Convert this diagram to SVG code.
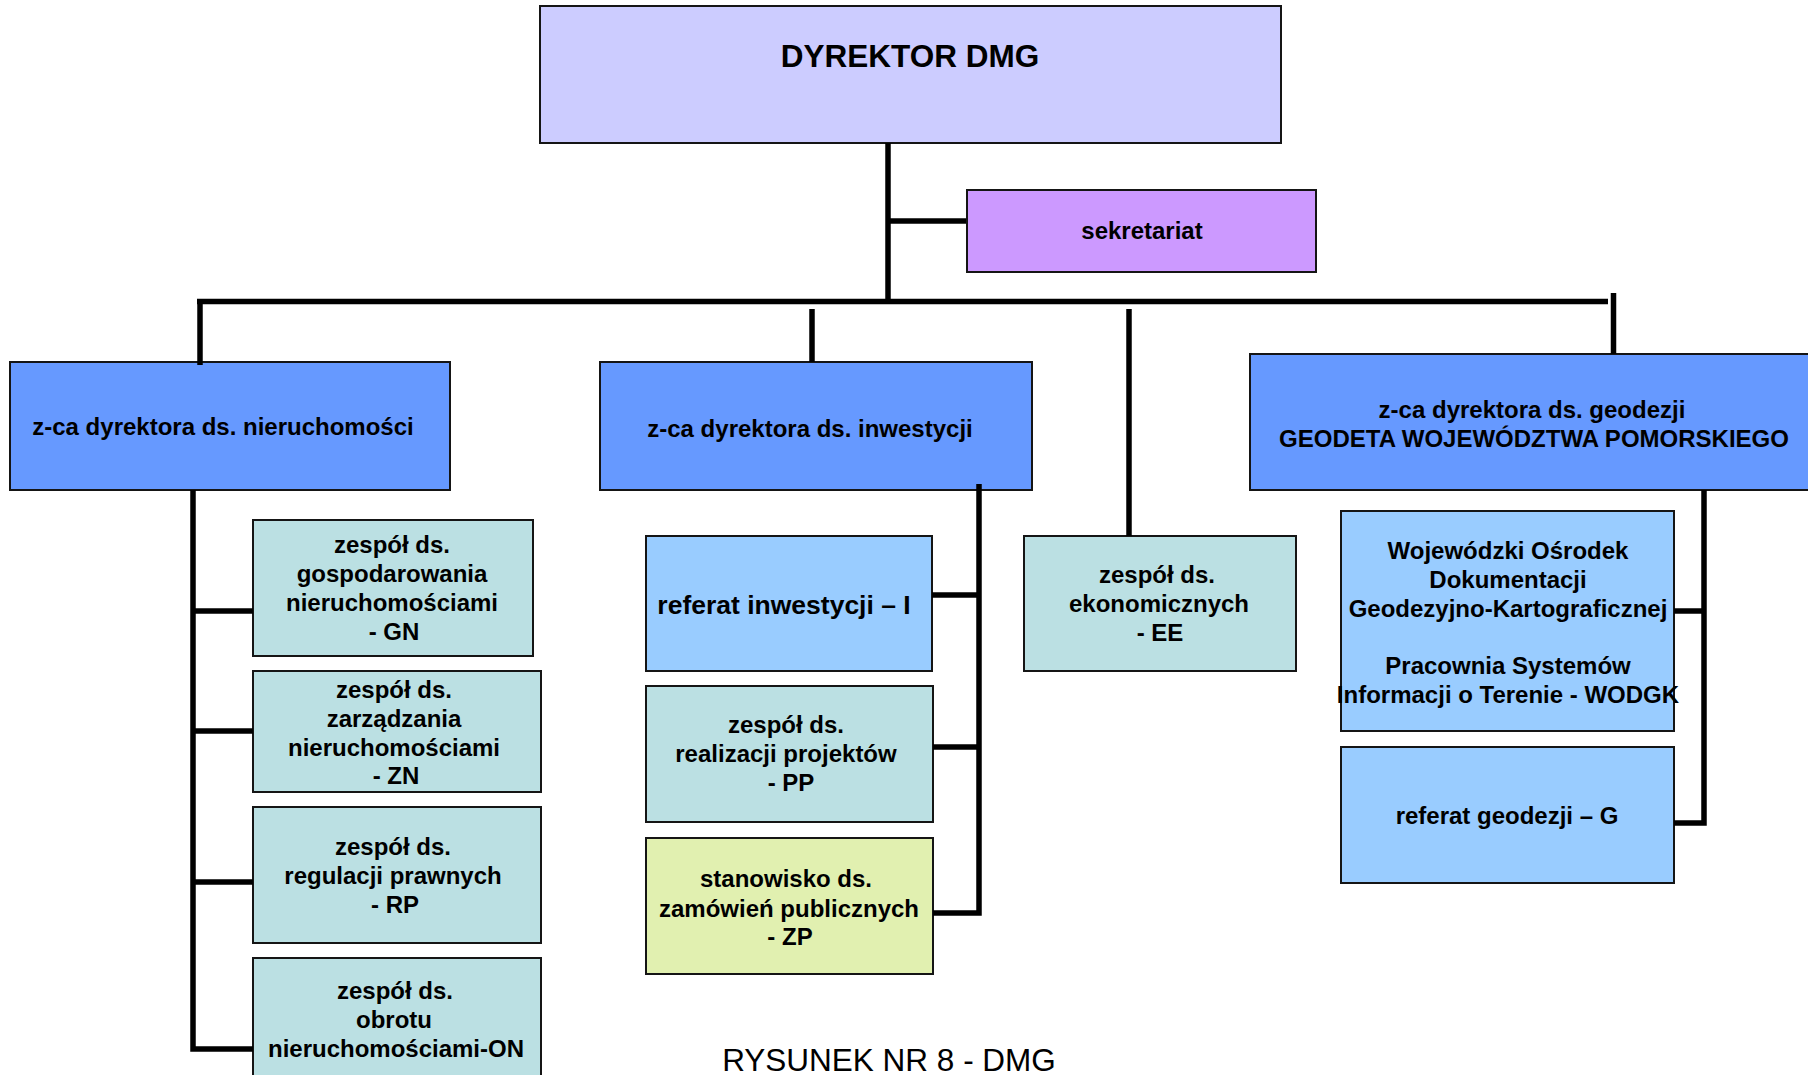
<svg xmlns="http://www.w3.org/2000/svg" width="1808" height="1075" viewBox="0 0 1808 1075">
<style>
  .box { stroke: #151515; stroke-width: 2; }
  .t { font-family: "Liberation Sans", Arial, sans-serif; font-weight: bold; font-size: 24px; fill: #000; text-anchor: middle; }
  .conn { stroke: #000; stroke-width: 5.5; fill: none; stroke-linecap: butt; }
  .dir { fill: #CCCCFF; }
  .sek { fill: #CC99FF; }
  .dep { fill: #6699FF; }
  .lb { fill: #99CCFF; }
  .tl { fill: #BBE0E3; }
  .yl { fill: #E1F0B0; }
</style>
<rect width="1808" height="1075" fill="#fff"/>

<g id="dyrektor">
  <rect class="box dir" x="540" y="6" width="741" height="137"/>
  <text class="t" x="910" y="67" style="font-size:31.5px">DYREKTOR DMG</text>
</g>
<g id="sekretariat">
  <rect class="box sek" x="967" y="190" width="349" height="82"/>
  <text class="t" x="1142" y="239">sekretariat</text>
</g>

<g id="zca-nieruchomosci">
  <rect class="box dep" x="10" y="362" width="440" height="128"/>
  <text class="t" x="223" y="435">z-ca dyrektora ds. nieruchomości</text>
</g>
<g id="zca-inwestycji">
  <rect class="box dep" x="600" y="362" width="432" height="128"/>
  <text class="t" x="810" y="437">z-ca dyrektora ds. inwestycji</text>
</g>
<g id="zca-geodezji">
  <rect class="box dep" x="1250" y="354" width="580" height="136"/>
  <text class="t" x="1532" y="418">z-ca dyrektora ds. geodezji</text>
  <text class="t" x="1534" y="447">GEODETA WOJEWÓDZTWA POMORSKIEGO</text>
</g>

<g id="gn">
  <rect class="box tl" x="253" y="520" width="280" height="136"/>
  <text class="t" x="392"><tspan x="392" y="553">zespół ds.</tspan><tspan x="392" y="582">gospodarowania</tspan><tspan x="392" y="611">nieruchomościami</tspan><tspan x="394" y="640">- GN</tspan></text>
</g>
<g id="zn">
  <rect class="box tl" x="253" y="671" width="288" height="121"/>
  <text class="t" x="394"><tspan x="394" y="698">zespół ds.</tspan><tspan x="394" y="727">zarządzania</tspan><tspan x="394" y="756">nieruchomościami</tspan><tspan x="396" y="784">- ZN</tspan></text>
</g>
<g id="rp">
  <rect class="box tl" x="253" y="807" width="288" height="136"/>
  <text class="t" x="393"><tspan x="393" y="855">zespół ds.</tspan><tspan x="393" y="884">regulacji prawnych</tspan><tspan x="395" y="913">- RP</tspan></text>
</g>
<g id="on">
  <rect class="box tl" x="253" y="958" width="288" height="130"/>
  <text class="t" x="395"><tspan x="395" y="999">zespół ds.</tspan><tspan x="394" y="1028">obrotu</tspan><tspan x="396" y="1057">nieruchomościami-ON</tspan></text>
</g>

<g id="i">
  <rect class="box lb" x="646" y="536" width="286" height="135"/>
  <text class="t" x="784" y="614" style="font-size:26.5px">referat inwestycji – I</text>
</g>
<g id="pp">
  <rect class="box tl" x="646" y="686" width="287" height="136"/>
  <text class="t" x="787"><tspan x="786" y="733">zespół ds.</tspan><tspan x="786" y="762">realizacji projektów</tspan><tspan x="791" y="791">- PP</tspan></text>
</g>
<g id="zp">
  <rect class="box yl" x="646" y="838" width="287" height="136"/>
  <text class="t" x="788"><tspan x="786" y="887">stanowisko ds.</tspan><tspan x="789" y="917">zamówień publicznych</tspan><tspan x="790" y="945">- ZP</tspan></text>
</g>

<g id="ee">
  <rect class="box tl" x="1024" y="536" width="272" height="135"/>
  <text class="t" x="1158"><tspan x="1157" y="583">zespół ds.</tspan><tspan x="1159" y="612">ekonomicznych</tspan><tspan x="1160" y="641">- EE</tspan></text>
</g>

<g id="wodgk">
  <rect class="box lb" x="1341" y="511" width="333" height="220"/>
  <text class="t" x="1508"><tspan x="1508" y="559">Wojewódzki Ośrodek</tspan><tspan x="1508" y="588">Dokumentacji</tspan><tspan x="1508" y="617">Geodezyjno-Kartograficznej</tspan><tspan x="1508" y="674">Pracownia Systemów</tspan><tspan x="1508" y="703">Informacji o Terenie - WODGK</tspan></text>
</g>
<g id="g">
  <rect class="box lb" x="1341" y="747" width="333" height="136"/>
  <text class="t" x="1507" y="824">referat geodezji – G</text>
</g>

<g id="connectors">
  <line class="conn" x1="888" y1="143" x2="888" y2="304"/>
  <line class="conn" x1="888" y1="221" x2="966" y2="221"/>
  <line class="conn" x1="197" y1="301.5" x2="1608" y2="301.5"/>
  <line class="conn" x1="200" y1="299" x2="200" y2="365"/>
  <line class="conn" x1="812" y1="309" x2="812" y2="362"/>
  <line class="conn" x1="1129" y1="309" x2="1129" y2="536"/>
  <line class="conn" x1="1613.5" y1="293" x2="1613.5" y2="354"/>

  <polyline class="conn" points="193,490 193,1049 253,1049"/>
  <line class="conn" x1="193" y1="611" x2="253" y2="611"/>
  <line class="conn" x1="193" y1="731" x2="253" y2="731"/>
  <line class="conn" x1="193" y1="882" x2="253" y2="882"/>

  <polyline class="conn" points="979,484 979,913 933,913"/>
  <line class="conn" x1="932" y1="595" x2="979" y2="595"/>
  <line class="conn" x1="933" y1="747" x2="979" y2="747"/>

  <polyline class="conn" points="1704,490 1704,823 1674,823"/>
  <line class="conn" x1="1674" y1="611" x2="1704" y2="611"/>
</g>

<text x="889" y="1071" style="font-family:'Liberation Sans', Arial, sans-serif; font-size:31.5px; fill:#000; text-anchor:middle">RYSUNEK NR 8 - DMG</text>
</svg>
